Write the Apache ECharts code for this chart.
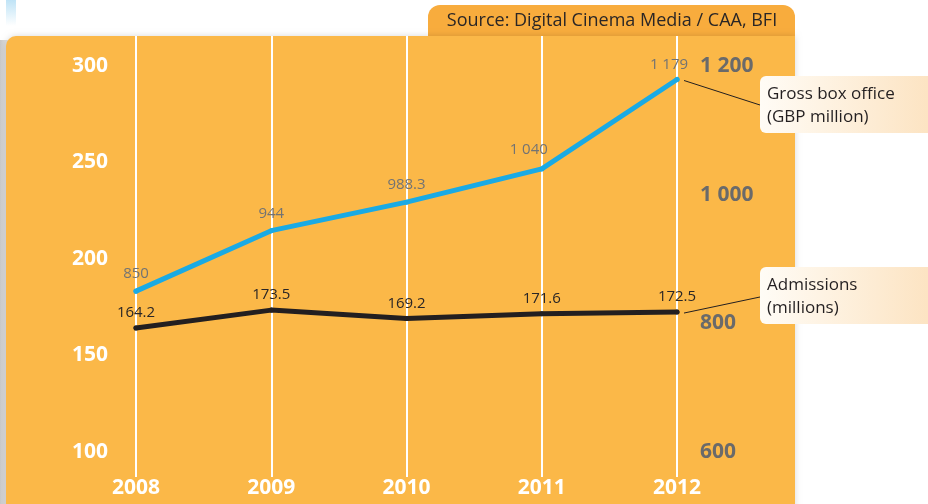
<!DOCTYPE html>
<html>
<head>
<meta charset="utf-8">
<script src="https://cdn.jsdelivr.net/npm/echarts@6/dist/echarts.min.js"></script>
<style>
  html, body { margin: 0; padding: 0; background: #fff; }
  #chart { width: 928px; height: 504px; }
</style>
</head>
<body>
<div id="chart"></div>
<script>
const years = ['2008', '2009', '2010', '2011', '2012'];
const boxOffice = [850, 944, 988.3, 1040, 1179];
const admissions = [164.2, 173.5, 169.2, 171.6, 172.5];
const leftTicks = [100, 150, 200, 250, 300];
const rightTicks = [600, 800, 1000, 1200];

const FONT = '"Open Sans", "Noto Sans", sans-serif';
const ORANGE = '#FBB848';
const BLUE = '#1AAAE4';
const BLACK = '#231F20';

// thousands with a space, e.g. 1 179
const spaced = v => String(v).replace(/\B(?=(\d{3})+(?!\d))/g, ' ');

// per-point nudges for the blue labels
const blueOffsets = [[0, 0], [0, 0], [0, 0], [-13, -2], [-8, 2]];

const chart = echarts.init(document.getElementById('chart'));

const option = {
  animation: false,
  backgroundColor: '#fff',
  textStyle: { fontFamily: FONT },
  graphic: [
    {
      type: 'rect', z: -20, silent: true,
      shape: { x: 0, y: 40, width: 8, height: 464 },
      style: {
        fill: new echarts.graphic.LinearGradient(0, 0, 1, 0, [
          { offset: 0, color: '#c9c9c9' },
          { offset: 1, color: '#e6e6e6' }
        ])
      }
    },
    {
      type: 'rect', z: -20, silent: true,
      shape: { x: 6, y: 0, width: 10, height: 26 },
      style: {
        fill: new echarts.graphic.LinearGradient(0, 0, 0, 1, [
          { offset: 0, color: '#bfe3f6' },
          { offset: 1, color: '#ffffff' }
        ])
      }
    },
    {
      type: 'rect', z: -15, silent: true,
      shape: { x: 428, y: 5, width: 367, height: 45, r: [12, 12, 0, 0] },
      style: { fill: '#F8AC3D' }
    },
    {
      type: 'text', z: -14, silent: true,
      x: 612, y: 21,
      style: {
        text: 'Source: Digital Cinema Media / CAA, BFI',
        font: '18px ' + FONT,
        fill: '#2a2626',
        align: 'center',
        verticalAlign: 'middle'
      }
    },
    {
      type: 'rect', z: -10, silent: true,
      shape: { x: 6, y: 36, width: 789, height: 480, r: [10, 0, 0, 0] },
      style: { fill: ORANGE, shadowBlur: 6, shadowColor: 'rgba(0,0,0,0.15)' }
    }
  ],
  grid: { left: 136, right: 251, top: 36, bottom: 27 },
  xAxis: {
    type: 'category',
    data: years,
    boundaryGap: false,
    axisLine: { show: false },
    axisTick: { show: false },
    splitLine: { show: true, lineStyle: { color: '#fff', width: 2 } },
    axisLabel: {
      color: '#fff',
      fontWeight: 'bold',
      fontSize: 21,
      fontFamily: FONT,
      margin: 1
    }
  },
  yAxis: [
    {
      type: 'value',
      min: 87.05,
      max: 315.5,
      splitLine: { show: false },
      axisLine: { show: false },
      axisTick: { show: false },
      axisLabel: {
        customValues: leftTicks,
        color: '#fff',
        fontWeight: 'bold',
        fontSize: 21,
        fontFamily: FONT,
        margin: 28
      }
    },
    {
      type: 'value',
      min: 561.1,
      max: 1246.6,
      position: 'right',
      splitLine: { show: false },
      axisLine: { show: false },
      axisTick: { show: false },
      axisLabel: {
        customValues: rightTicks,
        color: '#6a6a6a',
        fontWeight: 'bold',
        fontSize: 21,
        fontFamily: FONT,
        margin: 23,
        formatter: v => spaced(v)
      }
    }
  ],
  series: [
    {
      name: 'Gross box office (GBP million)',
      type: 'line',
      yAxisIndex: 1,
      data: boxOffice.map((v, i) => ({
        value: v,
        label: { offset: blueOffsets[i] }
      })),
      symbol: 'circle',
      symbolSize: 5,
      itemStyle: { color: BLUE },
      lineStyle: { color: BLUE, width: 5, cap: 'round', join: 'round' },
      label: {
        show: true,
        position: 'top',
        distance: 7,
        color: '#737373',
        fontSize: 15,
        fontFamily: FONT,
        formatter: p => spaced(p.value)
      },
      z: 3
    },
    {
      name: 'Admissions (millions)',
      type: 'line',
      yAxisIndex: 0,
      data: admissions,
      symbol: 'circle',
      symbolSize: 5,
      itemStyle: { color: BLACK },
      lineStyle: { color: BLACK, width: 5, cap: 'round', join: 'round' },
      label: {
        show: true,
        position: 'top',
        distance: 5,
        color: '#2a2626',
        fontSize: 15,
        fontFamily: FONT,
        formatter: p => p.value.toFixed(1)
      },
      z: 3
    }
  ]
};

chart.setOption(option);

// callouts: leader line from the last point to a label box
const last = years.length - 1;
const pBlue = chart.convertToPixel({ seriesIndex: 0 }, [last, boxOffice[last]]);
const pBlack = chart.convertToPixel({ seriesIndex: 1 }, [last, admissions[last]]);

const boxFill = new echarts.graphic.LinearGradient(0, 0, 1, 0, [
  { offset: 0, color: '#FFFCF6' },
  { offset: 1, color: '#FCE2BF' }
]);

const callout = (pt, boxY, text, lineEndY) => [
  {
    type: 'line', z: 50, silent: true,
    shape: { x1: pt[0] + 7, y1: pt[1] + 1, x2: 760, y2: lineEndY },
    style: { stroke: BLACK, lineWidth: 1 }
  },
  {
    type: 'rect', z: 50, silent: true,
    shape: { x: 760, y: boxY, width: 180, height: 57, r: 6 },
    style: { fill: boxFill }
  },
  {
    type: 'text', z: 51, silent: true,
    x: 767, y: boxY + 7,
    style: {
      text: text,
      font: '17px ' + FONT,
      lineHeight: 23,
      fill: '#231F20'
    }
  }
];

chart.setOption({
  graphic: option.graphic.concat(
    callout(pBlue, 76, 'Gross box office\n(GBP million)', 105),
    callout(pBlack, 267, 'Admissions\n(millions)', 297)
  )
});
</script>
</body>
</html>
